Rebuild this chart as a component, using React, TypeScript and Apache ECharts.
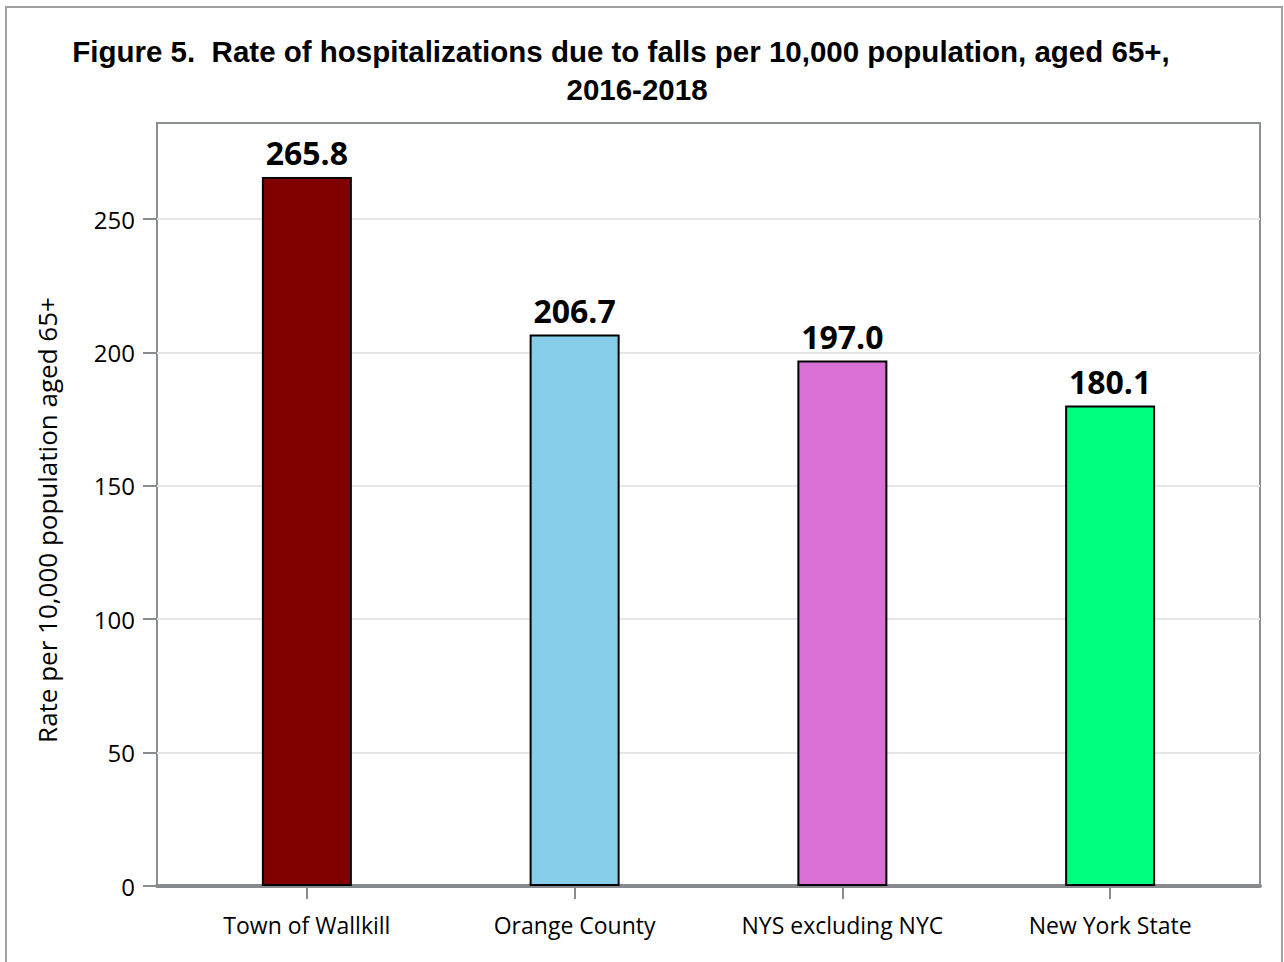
import React, { useEffect, useRef } from "react";
import * as echarts from "echarts";

const categories = ["Town of Wallkill", "Orange County", "NYS excluding NYC", "New York State"];
const rates = [265.8, 206.7, 197.0, 180.1];
const barColors = ["#800000", "#87CEEB", "#DA70D6", "#00FF7F"];
const yTicks = [0, 50, 100, 150, 200, 250];
const titleLine1 = "Figure 5.  Rate of hospitalizations due to falls per 10,000 population, aged 65+,";
const titleLine2 = "2016-2018";
const yAxisName = "Rate per 10,000 population aged 65+";

const FONT = "'Open Sans', 'Noto Sans', sans-serif";

export default function App() {
  const ref = useRef<HTMLDivElement>(null);
  useEffect(() => {
    if (!ref.current) return;
    const chart = echarts.init(ref.current, null, { renderer: "svg" });
    const yMax = 286;
    chart.setOption({
      animation: false,
      backgroundColor: "#ffffff",
      graphic: [
        {
          type: "rect",
          shape: { x: 6, y: 7, width: 1276, height: 1000 },
          style: { fill: "none", stroke: "#a0a0a0", lineWidth: 2 },
          silent: true,
        },
        {
          type: "text",
          x: 621,
          y: 51,
          style: {
            text: titleLine1,
            font: "bold 29.5px 'Liberation Sans', Arial, sans-serif",
            fill: "#000",
            align: "center",
            verticalAlign: "middle",
          },
        },
        {
          type: "text",
          x: 637,
          y: 89,
          style: {
            text: titleLine2,
            font: "bold 29.5px 'Liberation Sans', Arial, sans-serif",
            fill: "#000",
            align: "center",
            verticalAlign: "middle",
          },
        },
        {
          type: "text",
          x: 47,
          y: 520,
          rotation: Math.PI / 2,
          style: {
            text: yAxisName,
            font: `26px ${FONT}`,
            fill: "#000",
            align: "center",
            verticalAlign: "middle",
          },
        },
      ],
      grid: [
        {
          left: 157,
          right: 24,
          top: 123,
          bottom: 76,
          show: true,
          borderColor: "#8c8f91",
          borderWidth: 2,
          containLabel: false,
        },
        {
          left: 173,
          right: 40,
          top: 123,
          bottom: 76,
          containLabel: false,
        },
      ],
      xAxis: [
        {
          gridIndex: 0,
          type: "value",
          min: 0,
          max: 1,
          axisLine: { show: true, onZero: false, lineStyle: { color: "#878b8d", width: 4 } },
          axisTick: { show: false },
          axisLabel: { show: false },
          splitLine: { show: false },
        },
        {
          gridIndex: 1,
          type: "category",
          data: categories,
          axisLine: { show: false },
          axisTick: {
            show: true,
            alignWithLabel: true,
            length: 13,
            lineStyle: { color: "#878b8d", width: 2 },
          },
          axisLabel: {
            margin: 27,
            fontSize: 23,
            fontFamily: FONT,
            color: "#000",
          },
        },
      ],
      yAxis: [
        {
          gridIndex: 0,
          type: "value",
          min: 0,
          max: yMax,
          interval: 50,
          axisLine: { show: false },
          axisTick: {
            show: true,
            length: 14,
            customValues: yTicks,
            lineStyle: { color: "#878b8d", width: 2 },
          },
          axisLabel: {
            customValues: yTicks,
            margin: 22,
            fontSize: 24,
            fontFamily: FONT,
            color: "#000",
          },
          splitLine: { show: true, lineStyle: { color: "#e6e6e6", width: 2 } },
        },
        {
          gridIndex: 1,
          type: "value",
          min: 0,
          max: yMax,
          show: false,
          splitLine: { show: false },
        },
      ],
      series: [
        {
          type: "bar",
          xAxisIndex: 1,
          yAxisIndex: 1,
          barWidth: 90,
          data: rates.map((v, i) => ({
            value: v,
            itemStyle: { color: barColors[i], borderColor: "#000", borderWidth: 2 },
          })),
          label: {
            show: true,
            position: "top",
            distance: 8,
            formatter: (p: any) => Number(p.value).toFixed(1),
            fontSize: 32,
            fontWeight: "bold",
            fontFamily: FONT,
            color: "#000",
          },
        },
      ],
    });
    return () => chart.dispose();
  }, []);
  return (
    <div
      ref={ref}
      style={{ position: "absolute", left: 0, top: 0, width: 1284, height: 962 }}
    />
  );
}
